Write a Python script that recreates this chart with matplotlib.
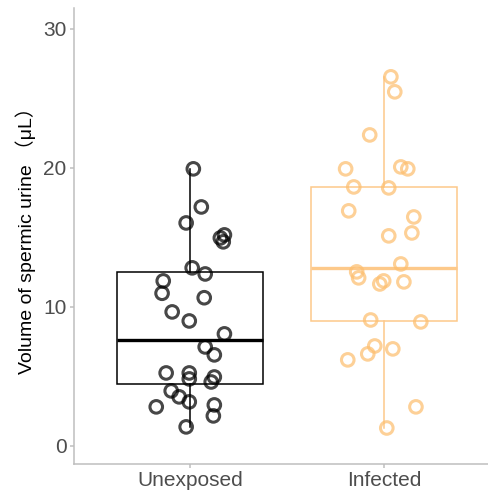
import matplotlib
matplotlib.use("Agg")
import matplotlib.pyplot as plt

plt.rcParams['font.family'] = ['Liberation Sans', 'Noto Sans CJK SC', 'DejaVu Sans']

# groups and colours
groups = ["Unexposed", "Infected"]
box_colors = ["#000000", "#FDC98A"]
pt_colors = ["#000000", "#FDBF6F"]

# volume values (uL)
unexposed = [19.93, 17.19, 16.04, 15.18, 14.96, 14.68, 12.81, 12.37, 11.87, 10.98,
             10.66, 9.64, 8.99, 8.06, 7.12, 6.55, 5.25, 5.25, 4.82, 4.96,
             4.60, 3.96, 3.53, 3.17, 2.81, 2.95, 2.16, 1.37]
infected = [26.55, 25.47, 22.37, 19.93, 20.07, 19.93, 18.63, 18.56, 16.91, 16.47,
            15.11, 15.32, 13.09, 12.52, 12.09, 11.87, 11.65, 11.80, 9.06, 8.92,
            7.19, 6.98, 6.62, 6.19, 2.81, 1.29]

# horizontal jitter offsets (category units)
unexposed_jit = [0.017, 0.058, -0.020, 0.177, 0.156, 0.171, 0.011, 0.078, -0.138, -0.144,
                 0.073, -0.092, -0.004, 0.177, 0.078, 0.125, -0.123, -0.004, -0.004, 0.125,
                 0.109, -0.097, -0.056, -0.004, -0.174, 0.125, 0.120, -0.020]
infected_jit = [0.034, 0.054, -0.075, -0.199, 0.085, 0.121, -0.157, 0.023, -0.183, 0.152,
                0.023, 0.142, 0.085, -0.142, -0.132, -0.003, -0.023, 0.101, -0.070, 0.188,
                -0.049, 0.044, -0.085, -0.188, 0.163, 0.013]

data = [unexposed, infected]
jitter = [unexposed_jit, infected_jit]

fig = plt.figure(figsize=(4.88, 4.97), dpi=100)
ax = fig.add_axes([73.5 / 488, 33 / 497, 1 - 73.5 / 488, 456 / 497])

for i, (vals, col) in enumerate(zip(data, box_colors)):
    ax.boxplot([vals], positions=[i + 1], widths=0.75, whis=1.5,
               showfliers=False, showcaps=False, patch_artist=True,
               boxprops=dict(facecolor="white", edgecolor=col, linewidth=1.1),
               whiskerprops=dict(color=col, linewidth=1.1),
               medianprops=dict(color=col, linewidth=2.4))

for i, (vals, jit, col) in enumerate(zip(data, jitter, pt_colors)):
    xs = [i + 1 + j for j in jit]
    ax.scatter(xs, vals, s=82, facecolors="none", edgecolors=col,
               linewidths=2.2, alpha=0.72, zorder=3)

ax.set_xlim(0.4, 2.534)
ax.set_ylim(-1.3, 31.5)
ax.set_yticks([0, 10, 20, 30])
ax.set_xticks([1, 2])
ax.set_xticklabels(groups)
ax.set_ylabel("Volume of spermic urine （μL）", fontsize=14, color="black", labelpad=5)

for side in ["top", "right"]:
    ax.spines[side].set_visible(False)
for side in ["left", "bottom"]:
    ax.spines[side].set_color("#BEBEBE")
    ax.spines[side].set_linewidth(1.1)
ax.tick_params(axis="both", colors="#BEBEBE", length=3, width=1.1,
               labelsize=15, labelcolor="#4D4D4D")
ax.tick_params(axis="x", pad=2)
ax.tick_params(axis="y", pad=2)

fig.savefig("out.png", dpi=100)
